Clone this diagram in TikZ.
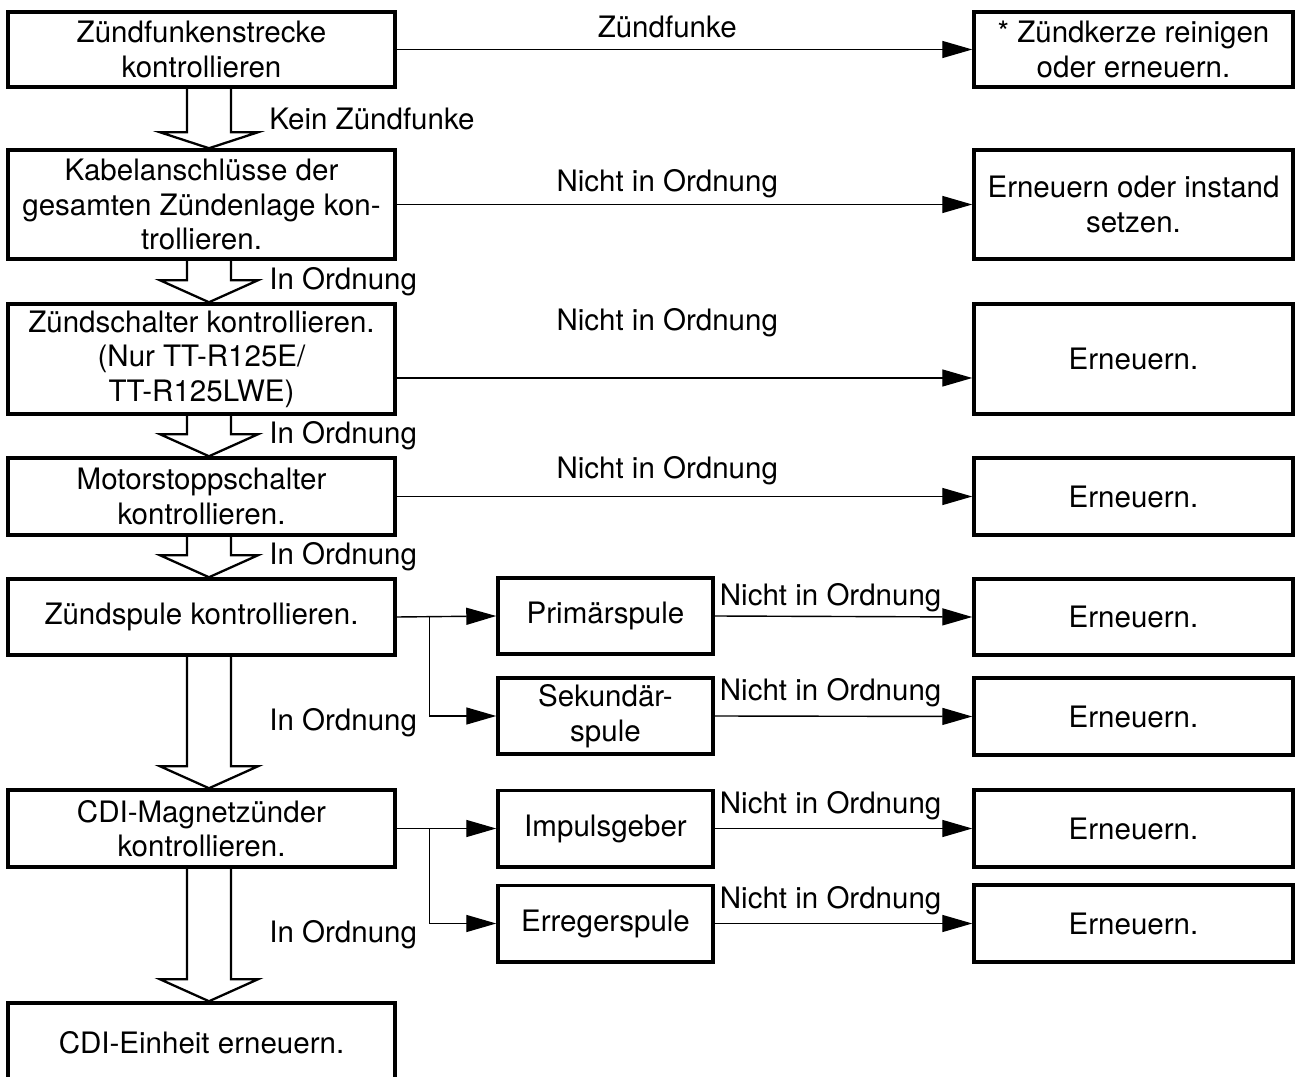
\documentclass[tikz,border=0pt]{standalone}
\usepackage{fontspec}
\setmainfont{TeX Gyre Heros}
\usetikzlibrary{arrows.meta, calc}

% hollow down arrow between two boxes: [head length]{from}{to}{label}
\newcommand\bigarrow[4][22]{%
  \path (#2.south -| ax) coordinate (s) (#3.north -| ax) coordinate (t);
  \draw[hollow] ($(s)+(-22,0)$) -- ($(t)+(-22,-#1)$) -- ($(t)+(-49,-#1)$) -- (t)
    -- ($(t)+(49,-#1)$) -- ($(t)+(22,-#1)$) -- ($(s)+(22,0)$);
  \node[lbl, anchor=west] at ($(s)!.5!(t)+(60,0)$) {#4};
}

\begin{document}
\begin{tikzpicture}[x=0.02cm, y=-0.02cm,
  box/.style={draw, line width=2pt, inner sep=2pt, align=center,
    font=\fontsize{16.8}{19.6}\selectfont},
  lbox/.style={box, minimum width=7.74cm},
  mbox/.style={box, minimum width=4.3cm, minimum height=1.53cm},
  rbox/.style={box, minimum width=6.38cm},
  lbl/.style={inner sep=0pt, font=\fontsize{16.8}{19.6}\selectfont},
  arr/.style={-{Triangle[length=0.6cm, width=0.34cm]}, line width=0.8pt},
  hollow/.style={line width=1.3pt, line join=miter}
]
\useasboundingbox (0,0) rectangle (1295,1077);
\clip (0,0) rectangle (1295,1077);
\coordinate (ax) at (209,0);

% left column
\node[lbox, minimum height=1.5cm] (spark) at (201.5,49.5) {Zündfunkenstrecke\\kontrollieren};
\node[lbox, minimum height=2.18cm] (wiring) at (201.5,204.5) {Kabelanschlüsse der\\gesamten Zündenlage kon-\\trollieren.};
\node[lbox, minimum height=2.2cm] (mainsw) at (201.5,359) {Zündschalter kontrollieren.\\(Nur TT-R125E/\\TT-R125LWE)};
\node[lbox, minimum height=1.54cm] (stopsw) at (201.5,496.5) {Motorstoppschalter\\kontrollieren.};
\node[lbox, minimum height=1.52cm] (coil) at (201.5,617) {Zündspule kontrollieren.};
\node[lbox, minimum height=1.54cm] (cdimag) at (201.5,828.5) {CDI-Magnetzünder\\kontrollieren.};
\node[lbox, minimum height=1.6cm] (cdiunit) at (201.5,1043) {CDI-Einheit erneuern.};

% middle column
\node[mbox] (prim) at (605.5,616) {Primärspule};
\node[mbox] (sek) at (605.5,716) {Sekundär-\\spule};
\node[mbox] (puls) at (605.5,828.5) {Impulsgeber};
\node[mbox] (erreg) at (605.5,923.5) {Erregerspule};

% right column
\node[rbox, minimum height=1.5cm] (r1) at (1133.5,49.5) {* Zündkerze reinigen\\oder erneuern.};
\node[rbox, minimum height=2.18cm] (r2) at (1133.5,204.5) {Erneuern oder instand\\setzen.};
\node[rbox, minimum height=2.2cm] (r3) at (1133.5,359) {Erneuern.};
\node[rbox, minimum height=1.54cm] (r4) at (1133.5,496.5) {Erneuern.};
\node[rbox, minimum height=1.52cm] (r5) at (1133.5,617) {Erneuern.};
\node[rbox, minimum height=1.54cm] (r6) at (1133.5,716.5) {Erneuern.};
\node[rbox, minimum height=1.54cm] (r7) at (1133.5,828.5) {Erneuern.};
\node[rbox, minimum height=1.54cm] (r8) at (1133.5,923.5) {Erneuern.};

% hollow arrows
\bigarrow[16]{spark}{wiring}{Kein Zündfunke}
\bigarrow{wiring}{mainsw}{In Ordnung}
\bigarrow{mainsw}{stopsw}{In Ordnung}
\bigarrow{stopsw}{coil}{In Ordnung}
\bigarrow{coil}{cdimag}{In Ordnung}
\bigarrow{cdimag}{cdiunit}{In Ordnung}

% left to right
\draw[arr] (spark.east) -- node[lbl, above=0.22cm, pos=.47] {Zündfunke} (r1.west);
\draw[arr] (wiring.east) -- node[lbl, above=0.12cm, pos=.47] {Nicht in Ordnung} (r2.west);
\draw[arr] ([yshift=-0.38cm]mainsw.east) -- node[lbl, above=0.8cm, pos=.47] {Nicht in Ordnung} ([yshift=-0.38cm]r3.west);
\draw[arr] (stopsw.east) -- node[lbl, above=0.22cm, pos=.47] {Nicht in Ordnung} (r4.west);

% branches
\coordinate (j1) at ($(coil.east)+(33,0)$);
\coordinate (j2) at ($(cdimag.east)+(33,0)$);
\draw[arr] (coil.east) -- (prim.west);
\draw[arr] (j1) |- (sek.west);
\draw[arr] (cdimag.east) -- (puls.west);
\draw[arr] (j2) |- (erreg.west);

\draw[arr] (prim.east) -- node[lbl, above=0.08cm, pos=.45] {Nicht in Ordnung} (r5.west);
\draw[arr] (sek.east) -- node[lbl, above=0.18cm, pos=.45] {Nicht in Ordnung} (r6.west);
\draw[arr] (puls.east) -- node[lbl, above=0.16cm, pos=.45] {Nicht in Ordnung} (r7.west);
\draw[arr] (erreg.east) -- node[lbl, above=0.16cm, pos=.45] {Nicht in Ordnung} (r8.west);
\end{tikzpicture}
\end{document}
